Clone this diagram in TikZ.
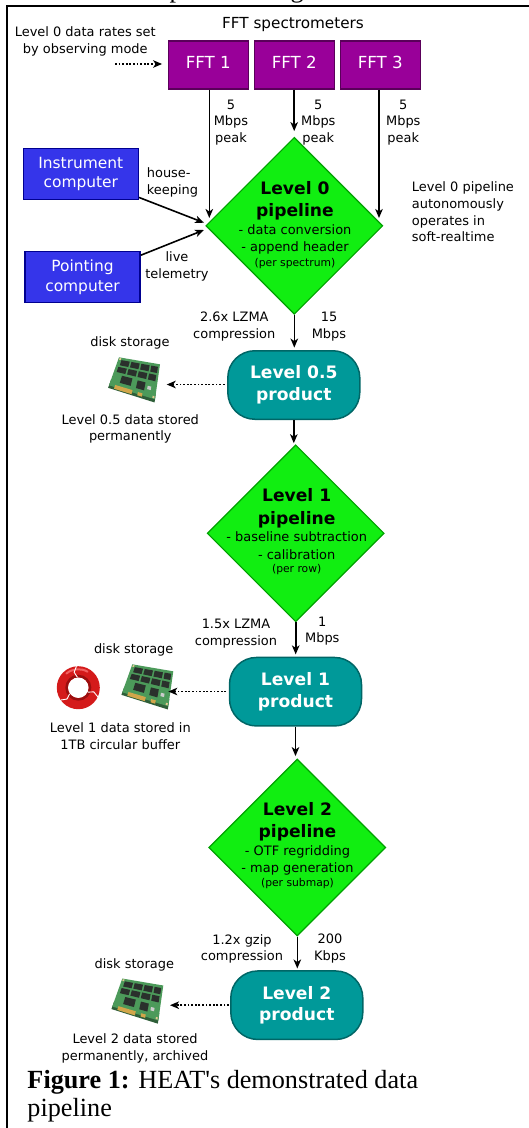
\documentclass[tikz,border=0pt]{standalone}
\usepackage{fontspec}
\setmainfont{DejaVu Sans}
\newfontfamily\capfont[Ligatures=TeXOff]{Liberation Serif}
\usetikzlibrary{shapes.geometric,arrows.meta}
\definecolor{fftpurple}{HTML}{990099}
\definecolor{fftborder}{HTML}{5A005A}
\definecolor{compblue}{HTML}{3535EA}
\definecolor{compborder}{HTML}{000090}
\definecolor{pipegreen}{HTML}{11EE11}
\definecolor{pipeborder}{HTML}{00A000}
\definecolor{prodteal}{HTML}{009999}
\definecolor{prodborder}{HTML}{006666}
\definecolor{pcbgreen}{HTML}{4C9A5A}
\definecolor{pcbedge}{HTML}{2E5E38}
\definecolor{chipgray}{HTML}{2A302C}
\definecolor{goldpin}{HTML}{D2A64A}
\definecolor{ringred}{HTML}{D41A1A}
\definecolor{ringdark}{HTML}{9A0E0E}
\definecolor{ringlight}{HTML}{F06060}
\tikzset{
  lbl/.style={font=\fontsize{13}{16.7}\selectfont, align=center, inner sep=0pt, anchor=base},
  lblL/.style={font=\fontsize{13}{16.7}\selectfont, align=left, inner sep=0pt, anchor=base west},
  fftbox/.style={draw=fftborder, fill=fftpurple, line width=1.2bp, minimum width=80bp, minimum height=48bp, inner sep=0pt, text=white, font=\fontsize{16.7}{20}\selectfont, text height=12.2bp, text depth=5.5bp},
  compbox/.style={draw=compborder, fill=compblue, line width=1.5bp, minimum width=115bp, minimum height=51bp, inner sep=0pt, text=white, font=\fontsize{15.5}{19.7}\selectfont, align=center},
  pipe/.style={diamond, aspect=1, draw=pipeborder, fill=pipegreen, line width=1.2bp, minimum width=177bp, minimum height=177bp, inner sep=0pt},
  pipetitle/.style={font=\fontsize{17.2}{22.4}\selectfont\bfseries, align=center, inner sep=0pt, anchor=base},
  pipedesc/.style={font=\fontsize{13}{17.4}\selectfont, align=center, inner sep=0pt, anchor=base},
  pipesmall/.style={font=\fontsize{10.8}{13}\selectfont, inner sep=0pt, anchor=base},
  prod/.style={draw=prodborder, fill=prodteal, line width=1.5bp, rounded corners=27bp, minimum width=132bp, minimum height=68.5bp, inner sep=0pt, text=white, font=\fontsize{17.2}{21.7}\selectfont\bfseries, align=center},
  flow/.style={line width=1.6bp, -{Stealth[length=9bp,width=7.5bp,inset=2.5bp]}},
  store/.style={line width=1.8bp, dash pattern=on 1.8bp off 1.8bp, -{Stealth[length=9bp,width=7.5bp,inset=2.5bp]}},
  slot/.style={minimum width=53bp, minimum height=47bp, inner sep=0pt},
}
% bilinear map of the unit square onto the tilted disk card
\newcommand\uv[2]{({4+46*(#1)+(#2)*(10-5*(#1))},{29+14*(#1)-(#2)*(28+7*(#1))})}
\newcommand\quadfill[5]{\fill[#1] \uv{#2}{#3} -- \uv{#4}{#3} -- \uv{#4}{#5} -- \uv{#2}{#5} -- cycle;}
\newcommand\drawssd[1]{%
  \begin{scope}[shift={(#1.north west)}]
    \quadfill{pcbedge}{0}{-0.09}{1}{0.2}
    \quadfill{pcbgreen}{0}{0}{1}{1}
    \quadfill{goldpin}{0.12}{-0.06}{0.5}{0.07}
    \quadfill{goldpin}{0.62}{-0.04}{0.72}{0.06}
    \quadfill{chipgray}{0.06}{0.50}{0.26}{0.68}
    \quadfill{chipgray}{0.30}{0.50}{0.50}{0.68}
    \quadfill{chipgray}{0.54}{0.50}{0.74}{0.68}
    \quadfill{chipgray}{0.78}{0.50}{0.95}{0.68}
    \quadfill{chipgray}{0.08}{0.74}{0.28}{0.92}
    \quadfill{chipgray}{0.32}{0.74}{0.52}{0.92}
    \quadfill{chipgray}{0.56}{0.74}{0.76}{0.92}
    \quadfill{chipgray}{0.80}{0.74}{0.96}{0.92}
    \quadfill{chipgray}{0.20}{0.18}{0.44}{0.42}
    \quadfill{chipgray}{0.56}{0.16}{0.74}{0.40}
    \quadfill{black!20}{0.80}{0.22}{0.88}{0.32}
    \quadfill{goldpin!60!white}{0.02}{0.92}{0.06}{0.98}
    \quadfill{goldpin!60!white}{0.94}{0.02}{0.98}{0.08}
  \end{scope}}
\newcommand\drawrecycle[1]{%
  \begin{scope}[shift={(#1.center)}]
    \fill[ringred, even odd rule] (0,0) circle (21.5bp) (0,0) circle (10.5bp);
    \fill[ringdark, even odd rule] (0,0) circle (13bp) (0,0) circle (10.5bp);
    \draw[ringlight, line width=2bp, line cap=round] (130:18.5bp) arc[start angle=130, end angle=60, radius=18.5bp];
    \foreach \a in {95,215,335}
      \draw[white, line width=0.9bp] (\a:10.5bp) -- (\a+10:16bp) -- (\a:21.5bp);
  \end{scope}}
\begin{document}
\begin{tikzpicture}[x=1bp, y=-1bp]
\useasboundingbox (0,0) rectangle (529,1128);
% frame and fragments of the text above
\draw[line width=1.8bp] (7,1132) -- (7,6) -- (533,6);
\node[anchor=base west, inner sep=0pt, font=\capfont\fontsize{26.3}{28}\selectfont] (fragp) at (169.5,-2.4) {p};
\node[anchor=base west, inner sep=0pt, font=\capfont\fontsize{26.3}{28}\selectfont] (fragg) at (290.5,-2.4) {g};

% spectrometers
\node[lbl, font=\fontsize{15.3}{18}\selectfont] (tfft) at (293,28.7) {FFT spectrometers};
\node[lbl] (trates) at (85.3,53) {Level 0 data rates set\\by observing mode};
\node[fftbox] (fft1) at (208.3,65) {FFT 1};
\node[fftbox] (fft2) at (294.2,65) {FFT 2};
\node[fftbox] (fft3) at (380.3,65) {FFT 3};
\coordinate (ds) at (115,64);
\draw[store, shorten >=5.6bp] (ds) -- (fft1.west |- ds);

\node[lbl] (r1) at (231,142.4) {5\\Mbps\\peak};
\node[lbl] (r2) at (318.3,142.4) {5\\Mbps\\peak};
\node[lbl] (r3) at (403.3,142.4) {5\\Mbps\\peak};

% computers
\node[compbox] (inst) at (80.8,173.8) {Instrument\\computer};
\node[compbox] (point) at (82.5,277.2) {Pointing\\computer};
\node[lblL] (thk) at (146.7,194.4) {house-\\keeping};
\node[lbl] (tlt) at (177,278.4) {live\\telemetry};

% level 0 pipeline
\node[pipe] (d0) at (294.3,225.8) {};
\node[pipetitle] (d0a) at (295,216.7) {Level 0\\pipeline};
\node[pipedesc] (d0b) at (295,251.7) {- data conversion\\- append header};
\node[pipesmall] (d0c) at (295,266) {(per spectrum)};
\node[lblL] (tauto) at (411.7,241.8) {Level 0 pipeline\\autonomously\\operates in\\soft-realtime};

\coordinate (e1) at (209.3,218);
\coordinate (e3) at (379,218);
\coordinate (hk) at (204,222.7);
\coordinate (lt) at (204,230);
\draw[flow] (fft1.south -| e1) -- (e1);
\draw[flow, shorten >=5.6bp] (fft2.south) -- (fft2.south |- d0.north);
\draw[flow] (fft3.south -| e3) -- (e3);
\draw[flow] ([yshift=2.6bp]inst.south east) -- (hk);
\draw[flow] ([yshift=-4.3bp]point.north east) -- (lt);

% level 0.5 product
\node[lbl] (c0a) at (234.3,338.3) {2.6x LZMA\\compression};
\node[lbl] (c0b) at (329,338.3) {15\\Mbps};
\node[prod] (p05) at (293.8,385) {Level 0.5\\product};
\draw[flow, shorten >=2.4bp] (d0.south) -- (d0.south |- p05.north);
\node[lbl] (ds05) at (130,346) {disk storage};
\node[slot] (disk05) at (131.7,380) {};
\drawssd{disk05}
\node[lbl] (st05) at (130.3,440.7) {Level 0.5 data stored\\permanently};
\coordinate (s05) at (166.7,384.5);
\draw[store, shorten <=2.5bp] (p05.west |- s05) -- (s05);

% level 1 pipeline
\node[pipe] (d1) at (295.7,533.3) {};
\node[pipetitle] (d1a) at (296.7,524.1) {Level 1\\pipeline};
\node[pipedesc] (d1b) at (296.7,559.1) {- baseline subtraction\\- calibration};
\node[pipesmall] (d1c) at (296.7,572.7) {(per row)};
\draw[flow, shorten >=1bp] (p05.south) -- (p05.south |- d1.north);

% level 1 product
\node[lbl] (c1a) at (236,645) {1.5x LZMA\\compression};
\node[lbl] (c1b) at (322.3,642.7) {1\\Mbps};
\node[prod] (p1) at (295.5,691.7) {Level 1\\product};
\draw[flow, shorten >=2.3bp] (d1.south) -- (d1.south |- p1.north);
\node[lbl] (ds1) at (133.7,653.3) {disk storage};
\node[slot] (disk1) at (145,687) {};
\drawssd{disk1}
\node[circle, minimum size=43bp, inner sep=0pt] (recyc) at (78.3,687.7) {};
\drawrecycle{recyc}
\node[lbl] (st1) at (120.3,749) {Level 1 data stored in\\1TB circular buffer};
\coordinate (s1) at (168.3,691.5);
\draw[store, shorten <=2.6bp] (p1.west |- s1) -- (s1);

% level 2 pipeline
\node[pipe] (d2) at (297.3,847.5) {};
\node[pipetitle] (d2a) at (297.5,837.4) {Level 2\\pipeline};
\node[pipedesc] (d2b) at (297.5,872.4) {- OTF regridding\\- map generation};
\node[pipesmall] (d2c) at (297.5,886.7) {(per submap)};
\draw[flow, shorten >=2.3bp] (p1.south) -- (p1.south |- d2.north);

% level 2 product
\node[lbl] (c2a) at (242,960.7) {1.2x gzip\\compression};
\node[lbl] (c2b) at (330,960) {200\\Kbps};
\node[prod] (p2) at (296.8,1005.2) {Level 2\\product};
\draw[flow, shorten >=1.7bp] (d2.south) -- (d2.south |- p2.north);
\node[lbl] (ds2) at (134.3,968.3) {disk storage};
\node[slot] (disk2) at (135,1001.2) {};
\drawssd{disk2}
\node[lbl] (st2) at (135,1060) {Level 2 data stored\\permanently, archived};
\coordinate (s2) at (170,1005.2);
\draw[store, shorten <=1bp] (p2.west |- s2) -- (s2);

% caption
\node[anchor=base west, align=left, inner sep=0pt, font=\capfont\fontsize{26.3}{28.4}\selectfont] (cap) at (27.3,1116.7) {\textbf{Figure 1:} HEAT's demonstrated data\\pipeline};
\end{tikzpicture}
\end{document}
